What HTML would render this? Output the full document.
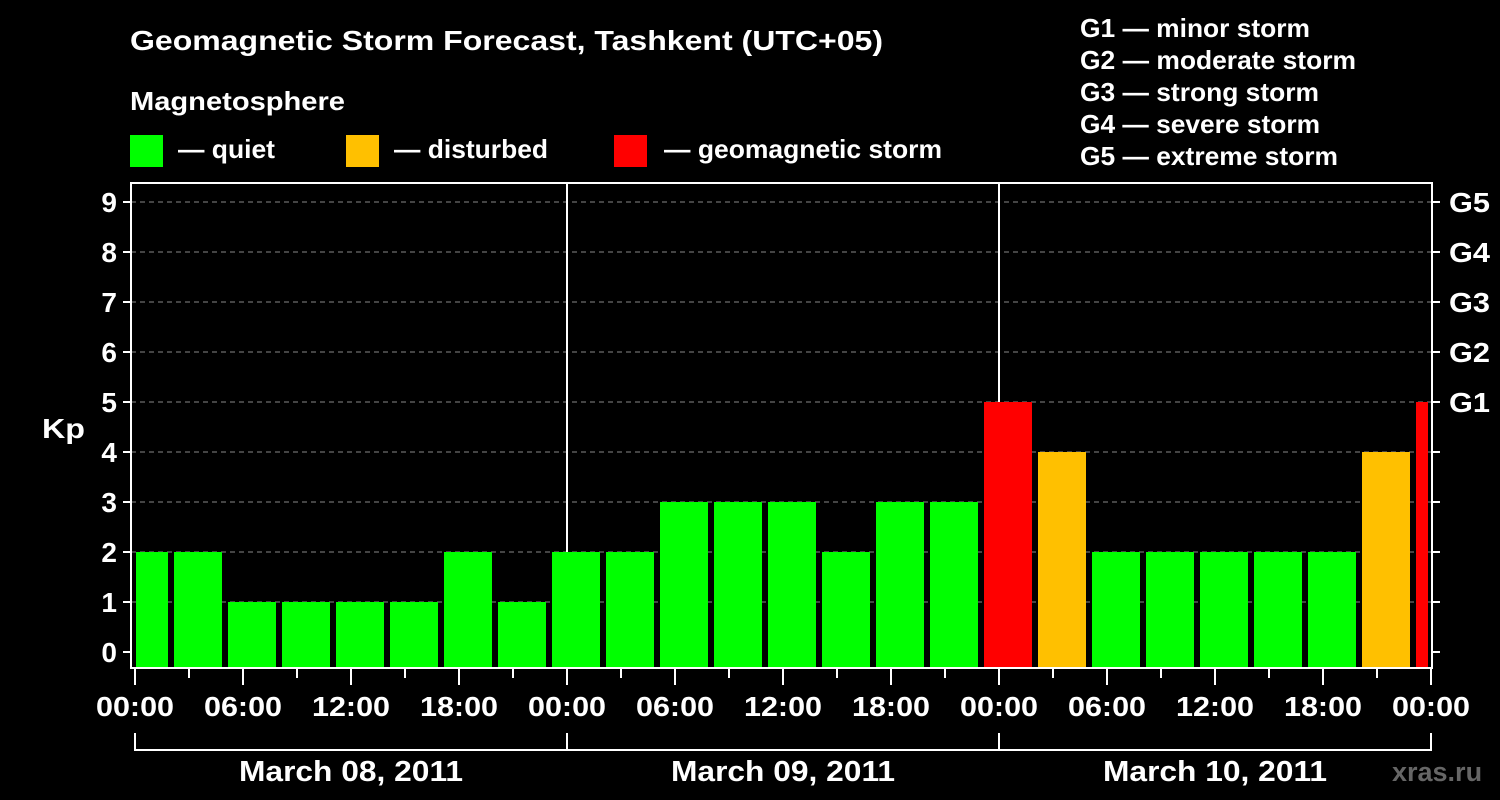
<!DOCTYPE html>
<html><head><meta charset="utf-8"><style>
html,body{margin:0;padding:0;background:#000;width:1500px;height:800px;overflow:hidden}
svg text{font-family:"Liberation Sans",Arial,sans-serif;font-weight:bold;fill:#fff}
</style></head><body>
<svg id="chart" width="1500" height="800" xmlns="http://www.w3.org/2000/svg">
<text x="130" y="50" font-size="28" textLength="753" lengthAdjust="spacingAndGlyphs">Geomagnetic Storm Forecast, Tashkent (UTC+05)</text>
<text x="130" y="110" font-size="26" textLength="215" lengthAdjust="spacingAndGlyphs">Magnetosphere</text>
<g><rect x="130" y="135" width="33" height="32" fill="#00ff00"/><text x="178" y="158" font-size="26" textLength="97" lengthAdjust="spacingAndGlyphs">— quiet</text></g>
<g><rect x="346" y="135" width="33" height="32" fill="#ffc000"/><text x="394" y="158" font-size="26" textLength="154" lengthAdjust="spacingAndGlyphs">— disturbed</text></g>
<g><rect x="614" y="135" width="33" height="32" fill="#ff0000"/><text x="664" y="158" font-size="26" textLength="278" lengthAdjust="spacingAndGlyphs">— geomagnetic storm</text></g>
<g font-size="26">
<text x="1080" y="37" textLength="230" lengthAdjust="spacingAndGlyphs">G1 — minor storm</text>
<text x="1080" y="69" textLength="276" lengthAdjust="spacingAndGlyphs">G2 — moderate storm</text>
<text x="1080" y="101" textLength="239" lengthAdjust="spacingAndGlyphs">G3 — strong storm</text>
<text x="1080" y="133" textLength="240" lengthAdjust="spacingAndGlyphs">G4 — severe storm</text>
<text x="1080" y="165" textLength="258" lengthAdjust="spacingAndGlyphs">G5 — extreme storm</text>
</g>
<text x="42" y="438" font-size="28" textLength="43" lengthAdjust="spacingAndGlyphs">Kp</text>
<text x="1392" y="781" font-size="27" style="fill:#666">xras.ru</text>
<g id="grid"></g>
<g id="bars"></g>
<g id="axes"></g>
</svg>
<script>
const values=[2,2,1,1,1,1,2,1, 2,2,3,3,3,2,3,3, 5,4,2,2,2,2,2,4, 5];
const yTicks=[0,1,2,3,4,5,6,7,8,9];
const gLabels=["G1","G2","G3","G4","G5"];
const gLevels=[5,6,7,8,9];
const hourLabels=["00:00","06:00","12:00","18:00","00:00","06:00","12:00","18:00","00:00","06:00","12:00","18:00","00:00"];
const dayLabels=["March 08, 2011","March 09, 2011","March 10, 2011"];
const NS="http://www.w3.org/2000/svg";
const L=131,R=1432,T=183,B=668;
const x=h=>135+18*h;
const y=v=>652-50*v;
function mk(tag,attrs,parent,txt){const e=document.createElementNS(NS,tag);for(const k in attrs)e.setAttribute(k,attrs[k]);if(txt!=null)e.textContent=txt;parent.appendChild(e);return e;}
const grid=document.getElementById('grid'),bars=document.getElementById('bars'),axes=document.getElementById('axes');
yTicks.forEach(v=>{
 if(v>0){const g=mk('line',{x1:L,x2:R,y1:y(v),y2:y(v),stroke:'#888','stroke-dasharray':'5,4','stroke-width':1},grid);
 
 }
 const t=mk('line',{x1:L-8,x2:L,y1:y(v),y2:y(v),stroke:'#fff','stroke-width':2},axes);
 
 
 const t2=mk('line',{x1:R,x2:R+8,y1:y(v),y2:y(v),stroke:'#fff','stroke-width':2},axes);
 
 
 const lb=mk('text',{x:L-14,y:y(v)+10,'font-size':28,'text-anchor':'end'},axes,String(v));
 
 
});
gLabels.forEach((g,i)=>{
 const lb=mk('text',{x:R+17,y:y(gLevels[i])+10,'font-size':28,textLength:41,lengthAdjust:'spacingAndGlyphs'},axes,g);
 
 
});
[24,48].forEach(h=>{
 const d=mk('line',{x1:x(h),x2:x(h),y1:T,y2:B,stroke:'#fff','stroke-width':2},grid);
 
 
});
values.forEach((v,i)=>{
 const c=x(3*i+0.5);
 let x0=Math.max(c-24,136),x1=Math.min(c+24,1428);
 const col=v>=5?'#ff0000':(v>=4?'#ffc000':'#00ff00');
 const r=mk('rect',{x:x0,y:y(v),width:x1-x0,height:B-1-y(v),fill:col},bars);
 
 
});
const fr=mk('rect',{x:L,y:T,width:R-L,height:B-T,fill:'none',stroke:'#fff','stroke-width':2},axes);


for(let h=0;h<=72;h+=3){
 const major=h%6===0;
 const t=mk('line',{x1:x(h),x2:x(h),y1:B,y2:major?685:678,stroke:'#fff','stroke-width':2},axes);
 
 
}
hourLabels.forEach((s,i)=>{
 const lb=mk('text',{x:x(6*i)-39,y:716,'font-size':28,textLength:78,lengthAdjust:'spacingAndGlyphs'},axes,s);
 
 
});
dayLabels.forEach((s,i)=>{
 const p=mk('path',{d:`M${x(24*i)},733V750H${x(24*i+24)}V733`,fill:'none',stroke:'#fff','stroke-width':2},axes);
 
 
 const lb=mk('text',{x:x(24*i+12)-112,y:781,'font-size':29,textLength:224,lengthAdjust:'spacingAndGlyphs'},axes,s);
 
 
});
</script>
</body></html>
